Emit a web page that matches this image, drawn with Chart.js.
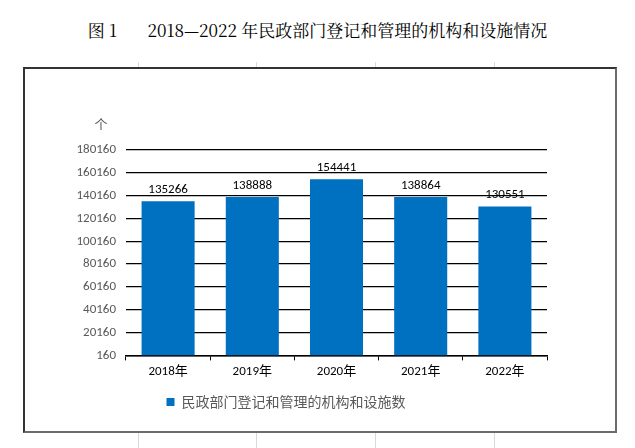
<!DOCTYPE html>
<html><head><meta charset="utf-8">
<script src="https://cdn.jsdelivr.net/npm/chart.js@4"></script>
<style>
body{margin:0;background:#fff;width:635px;height:448px;position:relative;overflow:hidden}
#title{position:absolute;top:17px;left:0;width:635px;text-align:center;font:17px "Noto Serif CJK SC","Noto Sans CJK SC",serif;color:#000}
#box{position:absolute;left:23px;top:67px;width:590px;height:362px;border:2px solid #6b6b6b;border-left-color:#333;border-top-color:#333}
.g{position:absolute;background:#d9d9d9}
</style></head><body>
<div id="title">图 1&nbsp;&nbsp;&nbsp;&nbsp;&nbsp;&nbsp;&nbsp;2018—2022 年民政部门登记和管理的机构和设施情况</div>
<div class="g" style="left:138px;top:62px;width:1px;height:5px"></div>
<div class="g" style="left:256px;top:62px;width:1px;height:5px"></div>
<div class="g" style="left:375px;top:62px;width:1px;height:5px"></div>
<div class="g" style="left:494px;top:62px;width:1px;height:5px"></div>
<div class="g" style="left:138px;top:433px;width:1px;height:15px"></div>
<div class="g" style="left:256px;top:433px;width:1px;height:15px"></div>
<div class="g" style="left:375px;top:433px;width:1px;height:15px"></div>
<div class="g" style="left:494px;top:433px;width:1px;height:15px"></div>
<div id="box"><canvas id="c" width="590" height="362"></canvas></div>
<script>
const years = ["2018年", "2019年", "2020年", "2021年", "2022年"];
const counts = [135266, 138888, 154441, 138864, 130551];
const seriesName = "民政部门登记和管理的机构和设施数";
const yMin = 160, yMax = 180160, yStep = 20000;

const font = "Calibri, Carlito, 'Noto Sans CJK SC', sans-serif";

const valueLabels = {
    id: "valueLabels",
    afterDatasetsDraw(chart) {
        const ctx = chart.ctx;
        ctx.save();
        ctx.font = "13px " + font;
        ctx.fillStyle = "#000";
        ctx.textAlign = "center";
        ctx.textBaseline = "bottom";
        chart.getDatasetMeta(0).data.forEach((bar, i) => {
            ctx.fillText(String(counts[i]), bar.x, bar.y - 5);
        });
        // unit label
        ctx.fillStyle = "#595959";
        ctx.font = "13px 'Noto Sans CJK SC', sans-serif";
        ctx.fillText("个", 76, 62);
        ctx.restore();
    },
};

new Chart(document.getElementById("c"), {
    type: "bar",
    data: {
        labels: years,
        datasets: [{ label: seriesName, data: counts, backgroundColor: "#0070C0", categoryPercentage: 0.63, barPercentage: 1 }],
    },
    options: {
        responsive: false,
        animation: false,
        layout: { padding: { top: 81, right: 68, left: 0, bottom: 12 } },
        plugins: {
            legend: {
                position: "bottom",
                labels: { boxWidth: 8, boxHeight: 8, color: "#595959", font: { size: 14, family: "'Noto Sans CJK SC', sans-serif" }, padding: 11 },
            },
            tooltip: { enabled: false },
        },
        scales: {
            x: {
                grid: { offset: true, drawOnChartArea: false, color: "#000", tickLength: 5 },
                border: { color: "#000", width: 1.5 },
                ticks: { color: "#000", font: { size: 13, family: font }, padding: 4 },
            },
            y: {
                min: yMin, max: yMax,
                afterFit(s) { s.width = 101; },
                afterBuildTicks(s) {
                    s.ticks = [];
                    for (let v = yMin; v <= yMax; v += yStep) s.ticks.push({ value: v });
                },
                grid: { color: "#000", lineWidth: 1.3, drawTicks: false },
                border: { display: false },
                ticks: { color: "#595959", font: { size: 13, family: font }, padding: 10, callback: v => String(v) },
            },
        },
    },
    plugins: [valueLabels],
});
</script>
</body></html>
